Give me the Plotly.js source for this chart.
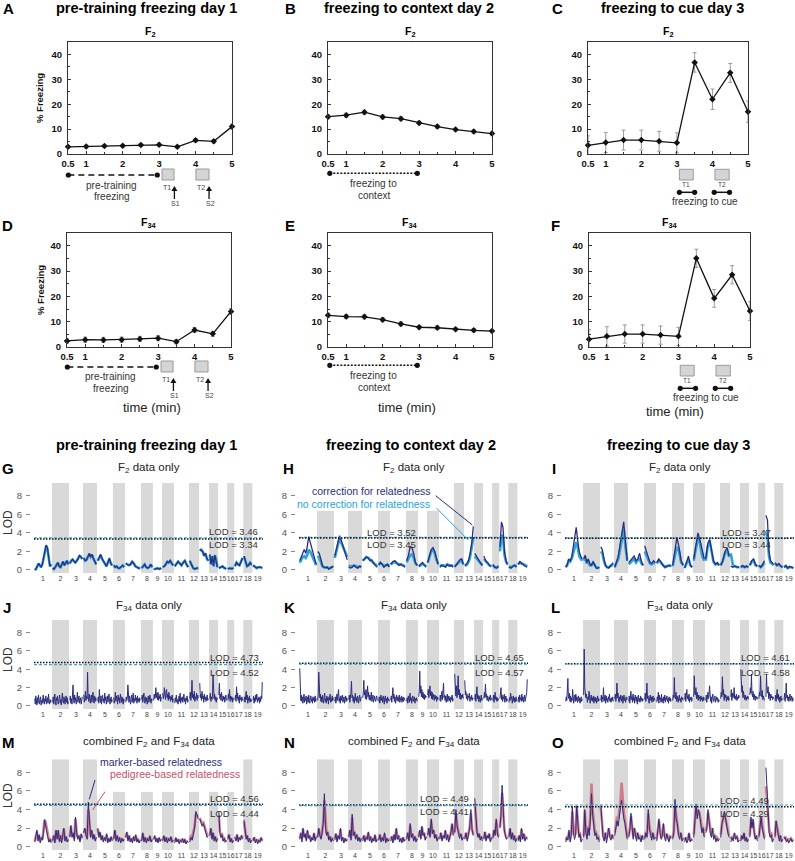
<!DOCTYPE html>
<html><head><meta charset="utf-8">
<script src="https://cdn.plot.ly/plotly-3.0.1.min.js"></script>
<style>html,body{margin:0;padding:0;background:#fff}#chart{width:795px;height:861px}</style>
</head><body><div id="chart"></div>
<script>
const FONT = 'Liberation Sans, Arial, Helvetica, sans-serif';
const W = 795, H = 861;

// ---------- freezing time courses (% freezing) ----------
const timeMin = [0.5,1,1.5,2,2.5,3,3.5,4,4.5,5];
const timeTicks = [0.5,1,2,3,4,5];
const f2Day1 = [2.9,3.0,3.2,3.3,3.6,3.7,2.9,5.5,5.1,11.0];
const f2Day1Err = [0.5,0.5,0.5,0.5,0.6,0.6,0.5,0.7,0.7,1.0];
const f2Day2 = [15.0,15.6,16.8,14.9,14.2,12.5,11.0,9.8,9.0,8.2];
const f2Day2Err = [0.8,0.8,0.8,0.8,0.8,0.7,0.7,0.6,0.6,0.6];
const f2Day3 = [3.5,4.6,5.6,5.6,5.1,4.5,36.8,22.0,32.6,17.0];
const f2Day3Err = [3.8,4.0,4.0,4.0,4.0,4.0,3.9,4.1,3.8,4.3];
const f34Day1 = [2.4,2.9,2.8,2.9,3.2,3.5,2.1,6.7,5.2,14.0];
const f34Day1Err = [0.9,1.0,1.0,1.0,1.0,1.0,0.8,1.0,1.0,1.2];
const f34Day2 = [12.5,12.0,11.9,10.8,9.1,7.8,7.6,7.0,6.6,6.3];
const f34Day2Err = [0.8,0.8,0.8,0.8,0.8,0.7,0.7,0.6,0.6,0.6];
const f34Day3 = [3.1,4.2,5.1,5.1,4.7,4.2,35.0,19.2,28.5,14.2];
const f34Day3Err = [3.7,3.8,3.6,3.6,3.6,3.6,3.6,3.5,3.6,3.7];

// ---------- genome scans (LOD per chromosome) ----------
const chrNames = ['1','2','3','4','5','6','7','8','9','10','11','12','13','14','15','16','17','18','19'];
const chrLen = [100,95,76,76,88,64,88,64,46,64,82,52,52,46,46,34,46,46,56];
const GAP = 9;

const lodG_corr = [
[0.0,0.1,0.4,0.7,0.5,0.3,0.6,1.4,2.1,2.7,2.4,1.0,0.4,0.6],
[0.2,0.1,0.3,0.5,0.8,0.4,0.3,0.6,0.9,0.5,0.7,1.0,0.6],
[0.7,1.0,1.2,0.9,0.8,1.0,1.2,1.6,1.4,1.2],
[1.3,1.0,1.1,1.5,1.8,1.4,1.7,1.2,0.8,0.6],
[1.0,1.3,1.7,1.2,0.9,0.6,0.4,0.8,1.3,0.7,0.5],
[0.5,0.3,0.4,0.2,0.2,0.4,0.5,0.3],
[0.7,0.6,0.5,0.6,0.9,0.7,0.4,0.3,0.2,0.2],
[0.2,0.4,0.6,0.3,0.2,0.3,0.6,0.3],
[0.1,0.1,0.2,0.1,0.2],
[0.3,0.4,0.6,0.9,0.8,1.0,0.7,0.5],
[0.4,0.6,0.9,0.7,0.5,0.8,1.0,0.6,0.3],
[1.0,0.6,0.2,0.1,0.2,0.2],
[2.2,2.1,2.0,1.5,1.8,1.3,1.0],
[1.7,0.6,1.5,0.4,1.6,1.1,0.3],
[0.2,0.3,0.4,0.2,0.1],
[0.1,0.2,0.1,0.2],
[0.4,0.8,0.6,0.5,0.9,1.3],
[1.5,0.9,0.4,0.5,0.8,0.5],
[0.5,0.3,0.2,0.3,0.3,0.2]];
const lodG_nocorr = [
[0.0,0.1,0.4,0.7,0.5,0.3,0.6,1.3,2.0,2.6,2.3,1.0,0.4,0.6],
[0.2,0.1,0.3,0.5,0.8,0.4,0.3,0.6,0.9,0.5,0.7,1.0,0.6],
[0.7,1.0,1.1,0.9,0.8,1.0,1.2,1.5,1.4,1.2],
[1.3,1.0,1.1,1.5,1.7,1.4,1.6,1.2,0.8,0.6],
[1.0,1.3,1.6,1.2,0.9,0.6,0.4,0.8,1.2,0.7,0.5],
[0.5,0.3,0.4,0.2,0.2,0.4,0.5,0.3],
[0.7,0.6,0.5,0.6,0.9,0.7,0.4,0.3,0.2,0.2],
[0.2,0.4,0.6,0.3,0.2,0.3,0.6,0.3],
[0.1,0.1,0.2,0.1,0.2],
[0.3,0.4,0.6,0.9,0.8,1.0,0.7,0.5],
[0.4,0.6,0.9,0.7,0.5,0.8,1.0,0.6,0.3],
[1.0,0.6,0.2,0.1,0.2,0.2],
[2.1,2.2,2.0,1.6,1.8,1.2,1.0],
[1.6,0.6,1.5,0.4,1.6,1.2,0.3],
[0.2,0.3,0.4,0.2,0.2],
[0.1,0.2,0.2,0.2],
[0.4,0.8,0.6,0.5,0.9,1.3],
[1.5,0.8,0.4,0.5,0.8,0.6],
[0.5,0.3,0.2,0.3,0.3,0.2]];

const lodH_corr = [
[1.0,1.4,2.0,2.2,1.8,2.5,3.6,3.0,2.2,1.5,1.0,0.6],
[2.0,1.8,1.2,0.5,0.3,0.2,0.3,0.1,0.2,0.3,0.4],
[1.5,2.2,3.0,3.7,3.3,2.6,2.2,1.6,1.1],
[0.3,0.2,0.3,0.5,0.3,0.2,0.4,0.3],
[1.0,1.2,1.4,1.3,1.0,1.1,0.7,0.5,0.3],
[0.5,0.8,0.6,0.3,0.5,0.6,0.3],
[0.6,0.9,1.0,0.7,0.5,0.6,0.4,0.3],
[1.0,1.6,2.5,2.4,1.8,0.8,0.5],
[0.4,0.6,0.8,0.5,0.3],
[0.8,1.5,2.2,2.4,2.0,1.2,0.6],
[0.3,0.5,0.4,0.3,0.6,0.4,0.5,0.3],
[0.3,0.6,0.8,1.1,1.2,0.6],
[0.5,0.6,0.8,1.2,2.0,3.0,4.7],
[1.8,1.5,1.2,0.9,0.7,0.5],
[1.5,1.0,0.8,0.5,0.4],
[0.6,0.3,0.2,0.4],
[2.5,5.2,4.6,2.0,1.0,0.6],
[0.3,0.2,0.4,0.5,0.3],
[0.6,0.9,0.7,0.5,0.4,0.3]];
const lodH_nocorr = [
[0.8,1.1,1.4,1.5,1.3,1.6,2.2,2.0,1.6,1.1,0.8,0.5],
[1.5,1.3,0.9,0.4,0.3,0.3,0.3,0.2,0.2,0.3,0.4],
[1.3,2.0,2.7,3.4,3.0,2.5,2.2,1.8,1.4],
[0.5,0.4,0.4,0.5,0.4,0.3,0.4,0.4],
[1.0,1.2,1.4,1.3,1.1,1.0,0.8,0.6,0.4],
[0.6,0.8,0.6,0.4,0.5,0.6,0.4],
[0.6,0.8,0.9,0.7,0.6,0.6,0.5,0.4],
[0.8,1.2,1.6,1.7,1.3,0.7,0.5],
[0.4,0.5,0.7,0.5,0.4],
[0.8,1.4,2.0,2.2,1.8,1.1,0.6],
[0.4,0.5,0.5,0.4,0.6,0.5,0.5,0.4],
[0.4,0.6,0.7,1.0,1.1,0.6],
[0.5,0.5,0.7,1.0,1.6,2.5,3.5],
[1.5,1.3,1.0,0.8,0.6,0.5],
[1.2,0.9,0.7,0.5,0.4],
[0.5,0.3,0.3,0.4],
[2.0,3.8,3.5,1.6,0.9,0.6],
[0.4,0.3,0.4,0.5,0.4],
[0.6,0.8,0.7,0.6,0.5,0.4]];

const lodI_corr = [
[0.3,0.6,1.2,1.0,1.4,2.6,3.8,4.6,3.2,2.0,1.5,1.2],
[1.2,1.6,0.8,1.2,0.6,0.5,0.9,0.6,0.2,0.2,0.3],
[2.5,2.2,1.2,0.5,0.3,0.2,0.4,0.6,0.8],
[0.3,0.8,1.5,2.8,4.2,5.2,3.0,1.0],
[0.8,1.0,1.3,1.5,1.0,1.2,1.8,0.9,0.5],
[2.6,2.0,1.5,0.8,0.7,1.0,0.8],
[0.8,1.2,0.9,0.5,0.3,0.4,0.5,0.4],
[0.5,1.8,3.5,2.5,1.0,0.5],
[0.2,0.8,1.5,0.5,0.3],
[1.2,2.8,4.0,3.2,2.0,1.2],
[1.2,2.8,3.3,2.0,1.0,0.6,0.8,0.5],
[0.5,1.0,2.0,2.4,1.5],
[0.4,0.3,0.4,0.3,0.3],
[0.3,0.5,0.3,0.4,0.3],
[0.5,1.0,1.2,0.6,0.4],
[0.5,0.3,0.6,1.0],
[5.9,5.4,2.0,1.0,0.8,0.6],
[0.8,0.5,0.7,0.4,0.3],
[0.3,0.5,0.2,0.4,0.3,0.2]];
const lodI_nocorr = [
[0.3,0.5,1.0,0.9,1.2,1.8,2.5,3.0,2.4,1.5,1.2,1.0],
[1.0,1.3,0.7,1.0,0.5,0.5,0.8,0.5,0.3,0.2,0.3],
[2.0,1.8,1.0,0.5,0.3,0.3,0.4,0.5,0.7],
[0.3,0.7,1.2,2.2,3.5,4.4,2.5,1.0],
[0.6,0.8,1.0,1.2,0.8,1.0,1.3,0.7,0.5],
[2.0,1.6,1.2,0.7,0.6,0.8,0.7],
[0.7,1.0,0.8,0.5,0.3,0.4,0.5,0.4],
[0.4,1.5,2.5,2.0,0.8,0.5],
[0.2,0.7,1.2,0.5,0.3],
[1.0,2.2,3.5,2.8,1.5,1.0],
[1.0,2.5,3.2,1.8,0.9,0.6,0.7,0.5],
[0.5,1.0,1.8,2.0,1.4],
[1.8,0.5,0.4,0.3,0.3],
[0.3,0.4,0.3,0.4,0.3],
[0.5,0.9,1.0,0.5,0.4],
[0.5,0.3,0.5,0.8],
[4.2,3.5,1.5,0.8,0.7,0.5],
[0.7,0.5,0.6,0.4,0.3],
[0.3,0.4,0.2,0.3,0.3,0.2]];

const lodJ = [
[0.8,0.2,1.1,0.4,0.1,0.9,0.3,1.2,0.5,0.2,0.7,1.0,0.1,0.6,0.3,0.9,1.2,0.4,0.2,0.8,0.5,1.1,0.2,0.6,0.9,0.3,1.3,0.5,0.2,0.7,0.4,0.6],
[0.4,1.0,0.2,0.7,1.3,0.5,0.1,0.9,0.6,1.1,0.2,0.4,0.8,1.2,0.3,0.7,0.1,0.9,1.4,0.5,0.3,1.0,0.6,0.2,0.8,1.1,0.4,0.9,0.2,0.5],
[0.6,1.1,0.3,0.8,0.2,1.0,2.3,0.6,0.3,1.2,0.5,0.9,0.2,0.7,1.5,0.4,0.8,1.1,0.3,0.6,0.9,0.2,0.7,1.0],
[1.2,0.4,0.9,1.6,0.6,1.1,0.8,3.7,1.0,0.5,1.3,0.7,0.3,0.9,1.2,0.4,0.8,1.5,0.6,0.3,1.1,0.5,0.9,0.6],
[0.5,1.0,0.3,1.8,0.7,0.4,1.1,0.2,0.9,1.2,0.5,0.8,0.3,1.4,0.6,1.0,0.2,0.7,1.1,0.4,0.9,1.3,0.5,0.2,0.8,1.0,0.4,0.7],
[0.9,0.3,0.7,1.5,0.5,1.1,0.8,0.2,1.2,0.6,0.9,0.3,1.3,0.7,0.4,1.0,0.6,0.2,0.8,0.5],
[0.4,1.0,0.6,0.9,2.3,0.8,0.4,1.1,0.5,0.2,0.9,1.2,0.4,0.7,1.4,0.3,0.8,0.5,1.2,0.6,0.9,0.3,1.1,0.5,0.8,0.4,0.9,0.6],
[0.7,1.2,0.4,0.9,1.4,0.6,0.3,1.0,0.5,0.9,0.2,0.7,1.1,0.4,0.8,1.2,0.5,0.3,0.8,0.6],
[0.6,1.3,0.8,1.0,2.0,0.9,1.4,0.7,1.5,0.6,1.1,0.8,1.3,0.5,1.0],
[1.4,0.8,1.1,2.0,1.2,0.7,1.6,1.8,0.9,1.3,0.6,1.5,0.8,1.1,0.5,1.0,0.7,1.2,0.4,0.8],
[0.3,0.9,0.5,1.2,0.4,0.7,0.2,0.8,1.1,0.5,1.4,0.3,0.9,0.6,1.0,0.4,0.7,1.3,0.5,0.8,0.2,0.9,0.6,1.1,0.4,0.7],
[0.8,1.5,0.6,1.1,2.8,0.9,1.3,0.7,1.6,0.5,1.0,0.8,1.4,0.6,1.2,0.9],
[2.5,0.9,1.3,0.6,1.6,0.8,1.1,0.4,1.3,0.7,1.0,0.5,0.9,1.2,0.6,0.8],
[0.8,1.4,0.5,1.0,0.7,1.1,3.4,1.2,0.8,1.3,0.6,1.0,0.4,0.9,0.7],
[1.2,2.5,0.8,1.3,0.6,1.5,0.9,0.5,1.1,0.7,1.0,0.4,0.8,1.2,0.6],
[0.6,1.3,0.8,1.8,0.5,1.1,0.7,1.0,0.4,0.9,0.6],
[0.7,1.2,0.5,2.1,0.8,1.4,0.6,1.0,0.3,1.2,0.7,0.9,0.5,1.0,0.6],
[0.5,1.0,0.4,0.8,1.6,0.7,1.2,0.3,0.9,0.6,1.1,0.4,0.8,0.5,0.7],
[0.6,1.1,0.3,0.9,0.5,1.2,0.7,1.3,0.4,0.8,0.6,1.0,0.3,0.9,0.5,1.1,0.8,2.6]];
const lodK = [
[4.1,1.5,0.6,1.2,0.5,1.0,0.3,0.8,1.3,0.4,0.9,0.6,1.1,0.2,0.7,1.0,0.4,1.2,0.6,0.3,0.9,1.1,0.5,0.8,0.3,1.0,0.6,0.9,0.4,1.1,0.5,0.8],
[0.6,1.2,3.7,1.5,0.9,1.3,0.5,1.0,0.4,1.2,0.7,0.3,0.9,1.4,0.5,0.8,0.3,1.1,0.6,0.9,0.2,1.0,0.7,1.3,0.4,0.8,0.5,1.1,0.6,0.9],
[0.5,1.0,0.3,0.8,1.3,0.6,1.0,1.8,0.5,0.9,0.3,1.1,0.6,0.9,1.2,0.4,0.7,1.0,0.3,0.8,1.1,0.5,0.9,0.6],
[0.7,1.2,0.4,0.9,1.5,2.7,0.9,1.2,0.5,1.0,0.3,0.8,1.4,0.6,0.9,0.4,1.1,0.7,0.3,0.9,1.2,0.5,0.8,1.0],
[0.9,1.4,2.8,1.2,1.6,0.8,1.8,0.7,1.1,2.2,1.0,1.5,0.7,1.2,0.6,1.0,1.5,0.5,0.9,1.2,0.4,0.8,1.1,0.7,0.5,0.9,1.1,0.6],
[0.5,1.0,0.3,0.8,1.2,0.6,0.9,0.4,1.1,0.7,0.2,0.9,1.1,0.5,0.8,0.3,1.0,0.6,0.8,0.5],
[0.6,1.1,0.4,0.9,2.0,0.8,1.3,0.5,1.0,0.3,0.9,1.2,0.6,1.0,0.5,0.8,1.2,0.4,0.9,0.6,1.1,0.4,0.8,1.0,0.5,0.9,0.7,0.6],
[0.5,0.9,0.3,1.1,0.7,0.4,1.4,0.6,0.9,0.3,0.8,1.1,0.5,0.7,1.0,0.3,0.8,0.6,0.9,0.5],
[1.0,1.6,3.8,1.4,2.2,1.0,1.8,0.9,1.5,0.8,1.3,0.7,1.2,0.9,1.1],
[1.2,1.8,0.9,1.4,2.2,1.1,1.6,0.8,1.5,0.7,1.3,1.0,0.6,1.2,0.8,1.1,0.5,1.0,0.7,0.9],
[0.6,1.2,0.5,0.9,1.6,0.7,1.3,2.5,0.9,1.2,0.6,1.1,0.4,0.9,1.3,0.5,0.8,1.1,0.6,0.9,0.4,1.0,0.7,1.2,0.5,0.8],
[3.5,1.6,1.1,2.2,0.9,1.5,3.3,1.2,1.8,0.8,1.4,0.7,1.2,0.9,1.3,0.8],
[2.8,1.2,1.6,0.8,1.3,0.6,1.1,0.9,1.4,0.5,1.0,0.7,1.2,0.6,0.9,0.8],
[0.7,1.3,0.5,1.0,2.1,0.8,1.2,0.5,1.1,0.7,0.4,0.9,1.2,0.6,0.8],
[0.8,1.5,0.9,2.4,1.0,1.3,0.6,1.1,0.8,0.5,1.0,0.7,1.2,0.6,0.9],
[0.6,1.2,0.4,0.9,1.5,0.7,1.0,0.5,0.9,0.6,0.8],
[0.8,1.3,2.0,0.7,1.2,0.5,1.0,0.8,1.3,0.4,0.9,1.1,0.5,0.8,0.6],
[0.4,0.9,0.6,1.4,0.8,1.0,0.3,0.8,1.1,0.5,0.9,0.4,0.7,1.0,0.5],
[0.5,1.0,0.4,1.2,0.7,0.9,0.5,1.3,0.6,1.0,0.4,0.9,1.2,0.5,0.8,1.1,1.5,2.9]];
const lodL = [
[0.5,1.0,0.6,1.4,3.0,1.0,0.8,1.4,0.5,1.1,0.4,0.9,0.6,1.8,0.7,0.3,0.9,1.2,0.5,1.3,0.6,1.0,0.4,0.8,1.1,0.5,0.9,0.3,0.7,1.0,0.5,0.8],
[1.2,6.2,2.0,1.5,0.9,1.3,0.6,0.4,1.0,0.7,1.6,0.5,0.3,0.8,1.2,0.6,0.9,0.5,1.1,0.3,0.8,1.0,0.5,0.9,0.3,0.7,1.1,0.5,0.8,0.6],
[0.6,1.2,0.4,1.0,0.7,2.0,0.5,0.9,1.2,0.3,1.1,0.6,0.8,0.4,1.0,0.7,1.3,0.5,0.8,0.4,0.9,0.6,1.0,0.5],
[0.8,1.3,0.5,1.0,2.5,0.9,1.4,0.6,0.4,1.0,0.7,1.2,0.5,0.8,1.1,0.3,0.9,1.2,0.6,0.8,0.4,1.0,0.7,0.9],
[0.5,1.1,0.3,0.8,1.6,0.7,1.0,0.4,1.3,0.6,0.9,0.3,1.2,0.8,0.5,1.0,0.2,0.9,1.2,0.5,0.8,0.4,1.1,0.6,0.9,0.5,0.8,0.6],
[0.7,1.4,0.5,1.0,2.5,0.8,1.1,0.6,0.3,0.9,1.2,0.6,1.0,0.4,0.8,1.1,0.5,0.9,0.7,0.6],
[0.4,1.0,0.6,1.5,0.3,1.2,0.7,0.9,0.4,1.3,0.5,0.8,0.3,1.0,0.6,1.2,0.4,0.9,0.7,1.1,0.5,0.8,0.3,1.0,0.6,0.9,0.5,0.7],
[0.6,1.2,0.9,3.1,1.0,0.8,1.5,0.5,1.1,0.7,0.4,0.9,1.2,0.6,0.8,0.4,1.0,0.7,0.9,0.6],
[0.7,1.4,0.5,1.0,1.8,0.8,1.1,0.6,1.3,0.4,0.9,0.7,1.0,0.5,0.9],
[1.0,3.3,1.4,1.2,2.0,0.8,1.5,0.9,0.6,1.2,0.8,1.0,0.5,1.1,0.7,0.9,0.5,1.0,0.6,0.9],
[0.6,1.2,0.4,0.9,1.5,0.8,1.1,2.2,0.7,0.5,1.0,0.3,0.9,1.3,0.7,0.5,0.9,1.1,0.4,0.8,1.0,0.6,0.9,0.4,0.7,0.5],
[0.8,1.5,1.0,3.2,1.2,1.8,0.6,1.3,0.9,1.2,0.5,1.0,0.7,1.1,0.6,0.9],
[1.0,1.8,0.6,1.4,0.9,1.2,2.0,0.8,1.1,0.7,1.3,0.6,1.0,0.8,1.2,0.9],
[4.0,1.8,1.5,2.2,0.9,1.6,1.1,0.7,1.2,0.9,0.6,1.0,0.8,1.1,0.7],
[1.2,2.0,1.4,3.5,1.3,1.0,1.6,0.7,1.3,0.9,0.6,1.1,0.8,1.0,0.7],
[0.8,1.5,1.1,3.3,1.4,1.0,1.7,0.7,1.1,0.8,0.6],
[1.0,3.5,1.8,1.4,2.1,0.8,1.5,1.0,0.6,1.3,0.9,1.1,0.7,1.0,0.8],
[0.6,1.2,0.5,0.9,1.8,0.8,1.3,0.6,1.0,0.4,0.9,1.1,0.6,0.8,0.7],
[0.7,1.4,0.5,1.0,2.5,0.9,1.2,0.6,1.0,0.5,0.9,1.3,0.6,0.8,1.1,0.5,0.9,0.6]];

const lodM_marker = [
[0.5,1.0,1.8,0.6,1.3,0.4,1.0,0.7,1.5,2.9,2.4,1.6,1.0,0.5,0.8,0.4],
[0.6,1.2,0.4,1.8,0.8,1.8,0.5,1.2,0.4,1.0,2.0,0.6,1.1,0.5,0.8],
[1.0,2.3,1.0,1.5,0.6,3.2,1.5,0.8,1.2,0.5,1.4,0.9],
[1.5,2.0,1.2,0.8,4.8,2.0,1.0,1.8,0.8,1.3,0.6,1.0],
[2.0,1.0,1.6,0.7,1.2,0.5,1.0,0.6,1.4,0.4,0.9,0.5,1.1,0.6],
[0.8,1.8,0.6,1.2,0.5,1.0,0.4,0.9,0.6,0.8],
[1.0,1.6,0.6,1.2,0.5,0.9,0.4,1.1,0.6,1.3,0.5,0.8,0.4,0.7],
[0.6,1.5,0.5,1.0,0.4,0.9,0.6,1.2,0.5,0.8],
[0.8,1.2,0.5,0.9,0.4,1.0,0.6,0.8],
[0.6,1.2,0.5,1.0,0.4,0.9,0.6,1.1,0.5,0.7],
[0.4,1.0,0.5,0.8,0.3,0.7,0.5,0.9,0.4,0.8,0.3,0.6,0.5],
[0.5,1.0,0.7,1.5,2.0,3.8,3.3,3.0],
[3.0,2.5,2.2,2.5,1.8,1.5,1.0,1.2],
[1.2,2.0,0.8,1.5,0.6,1.1,0.5,0.9],
[3.8,1.5,1.0,1.3,0.6,0.9,0.5,0.7],
[0.8,1.3,0.5,0.9,0.4,0.7],
[1.0,0.6,1.3,0.5,1.0,0.7,1.2,0.8],
[2.9,1.5,0.8,1.2,0.5,0.9,0.4,0.7],
[0.6,1.0,0.4,0.8,0.3,0.7,0.5,1.0,0.6]];
const lodM_pedigree = [
[0.6,1.0,1.6,0.8,1.2,0.6,1.0,0.8,1.6,2.9,2.6,1.8,1.1,0.7,0.8,0.5],
[0.7,1.2,0.6,1.7,1.0,1.7,0.7,1.2,0.6,1.1,1.9,0.8,1.1,0.6,0.8],
[1.1,2.2,1.2,1.5,0.9,3.0,1.6,1.0,1.2,0.7,1.3,1.0],
[1.5,1.9,1.3,1.0,4.0,2.1,1.2,1.7,1.0,1.3,0.8,1.0],
[1.9,1.2,1.5,0.9,1.2,0.7,1.0,0.8,1.3,0.6,0.9,0.7,1.0,0.7],
[0.9,1.7,0.8,1.2,0.7,1.0,0.6,0.9,0.7,0.8],
[1.0,1.5,0.8,1.2,0.7,0.9,0.6,1.0,0.7,1.2,0.7,0.8,0.6,0.7],
[0.7,1.4,0.7,1.0,0.6,0.9,0.7,1.1,0.6,0.8],
[0.8,1.1,0.7,0.9,0.6,0.9,0.7,0.8],
[0.7,1.1,0.7,1.0,0.6,0.9,0.7,1.0,0.6,0.7],
[0.6,0.9,0.6,0.8,0.5,0.7,0.6,0.8,0.5,0.7,0.5,0.6,0.6],
[0.7,1.1,1.0,1.6,2.2,3.5,3.4,3.2],
[3.1,2.8,2.5,2.6,2.0,1.7,1.3,1.3],
[1.3,1.9,1.0,1.5,0.8,1.1,0.7,0.9],
[3.4,1.6,1.2,1.3,0.8,0.9,0.6,0.7],
[0.9,1.3,0.7,0.9,0.6,0.7],
[1.1,0.8,1.3,0.7,1.0,0.8,1.2,0.9],
[2.7,1.6,1.0,1.2,0.7,0.9,0.6,0.7],
[0.7,1.0,0.6,0.8,0.5,0.7,0.6,0.9,0.7]];

const lodN_marker = [
[0.8,1.5,0.5,2.0,1.0,1.4,0.6,1.8,0.9,1.2,0.5,1.0,0.7,1.5,0.6,1.1],
[1.0,2.0,1.2,0.8,1.5,2.5,5.7,2.0,1.2,1.6,0.7,1.1,0.5,0.9,0.6],
[0.7,1.4,0.5,1.2,0.8,2.0,0.6,1.0,0.4,0.9,0.6,0.8],
[1.0,1.8,0.7,3.5,1.2,1.6,0.8,1.3,0.6,1.0,0.5,0.9],
[0.6,1.2,0.5,1.0,0.8,1.6,0.6,1.1,0.4,0.9,0.6,1.3,0.5,0.8],
[0.7,1.3,0.5,1.0,0.6,1.5,0.4,0.9,0.6,0.8],
[0.6,1.1,0.4,1.3,0.7,2.0,0.8,1.2,0.5,0.9,0.4,1.0,0.6,0.8],
[0.8,1.5,0.6,2.5,1.0,1.4,0.6,1.1,0.5,0.9],
[1.0,1.8,0.8,2.2,1.2,1.5,0.7,1.1],
[1.2,2.0,1.0,3.0,1.4,1.8,0.9,1.3,0.6,1.0],
[0.8,1.5,0.6,1.2,0.9,1.8,0.7,1.3,0.5,1.0,1.6,2.5,1.2],
[1.5,4.0,2.2,1.6,0.9,1.4,0.7,1.0],
[0.8,1.5,0.6,1.2,2.0,4.0,1.8,1.2],
[5.2,2.5,1.6,1.0,1.4,0.7,1.1,0.6],
[0.8,1.6,0.6,1.2,0.9,1.4,0.5,1.0],
[0.9,1.8,1.2,3.0,1.5,1.0],
[2.0,3.5,6.6,3.0,1.8,1.2,0.8,1.0],
[1.0,2.0,0.8,1.5,0.7,1.2,0.5,0.9],
[0.6,1.2,0.5,2.0,0.8,1.4,0.6,1.0,0.8]];
const lodN_pedigree = [
[0.9,1.4,0.8,1.9,1.1,1.4,0.8,1.7,1.0,1.2,0.7,1.0,0.8,1.4,0.8,1.1],
[1.1,1.9,1.3,1.0,1.6,2.7,5.0,2.3,1.4,1.6,0.9,1.1,0.7,0.9,0.8],
[0.9,1.4,0.7,1.2,0.9,1.9,0.8,1.0,0.6,0.9,0.7,0.8],
[1.1,1.7,0.9,3.2,1.3,1.6,1.0,1.3,0.8,1.0,0.7,0.9],
[0.8,1.2,0.7,1.0,0.9,1.5,0.8,1.1,0.6,0.9,0.7,1.2,0.7,0.8],
[0.8,1.3,0.7,1.0,0.8,1.4,0.6,0.9,0.7,0.8],
[0.8,1.1,0.6,1.3,0.8,1.9,0.9,1.2,0.7,0.9,0.6,1.0,0.7,0.8],
[0.9,1.5,0.8,2.3,1.1,1.4,0.8,1.1,0.7,0.9],
[1.1,1.7,1.0,2.1,1.3,1.5,0.9,1.1],
[1.3,2.0,1.2,2.8,1.5,1.8,1.0,1.3,0.8,1.0],
[0.9,1.5,0.8,1.2,1.0,1.7,0.9,1.3,0.7,1.0,1.6,2.4,1.3],
[1.6,3.6,2.3,1.7,1.1,1.4,0.9,1.0],
[0.9,1.5,0.8,1.3,2.0,3.6,1.9,1.3],
[4.6,2.6,1.7,1.2,1.4,0.9,1.1,0.8],
[0.9,1.6,0.8,1.2,1.0,1.4,0.7,1.0],
[1.0,1.8,1.3,2.8,1.6,1.1],
[2.1,3.4,5.8,3.1,1.9,1.3,1.0,1.0],
[1.1,1.9,1.0,1.5,0.9,1.2,0.7,0.9],
[0.8,1.2,0.7,1.9,0.9,1.4,0.8,1.0,0.9]];

const lodO_marker = [
[0.5,1.0,0.7,1.8,0.5,1.2,4.3,1.5,0.8,1.2,4.4,2.0,1.0,1.4,0.5,0.8],
[1.0,4.0,1.5,0.8,2.0,1.2,3.0,5.7,3.5,2.0,1.2,1.5,0.8,1.0,0.5],
[4.5,2.0,1.0,0.6,1.5,0.4,1.2,2.0,1.0,0.7,1.3,0.8],
[1.2,2.0,2.8,2.2,3.5,4.2,5.0,3.8,3.0,2.5,1.5,0.8],
[1.0,1.8,3.6,1.5,0.8,2.0,1.2,0.6,1.5,0.8,1.0,0.5,1.2,0.7],
[0.8,1.5,1.0,4.0,2.0,1.2,0.7,1.5,0.8,1.0],
[0.6,1.5,3.0,1.5,0.8,1.2,2.5,1.0,0.6,1.4,0.9,0.5,1.1,0.9],
[0.8,1.5,5.1,3.0,2.5,1.2,0.8,1.5,0.6,0.9],
[0.5,1.0,0.4,0.7,1.5,0.5,0.8,0.6],
[1.0,2.5,4.6,3.0,4.0,3.5,2.5,1.5,2.0,1.0],
[1.5,2.0,4.0,2.5,1.5,1.0,2.0,0.8,1.2,0.5,0.9,0.6,0.8],
[1.0,2.5,3.0,3.8,3.0,2.0,1.4,1.0],
[0.5,1.0,0.6,1.5,0.8,1.1,0.5,0.7],
[0.6,1.2,0.8,1.5,0.6,1.0,0.5,0.8],
[1.0,3.2,2.0,3.0,1.5,0.8,1.2,0.6],
[1.0,2.0,3.2,2.0,1.2,0.8],
[8.5,5.5,3.0,1.5,1.0,1.3,0.5,0.8],
[1.0,2.8,2.0,1.0,0.6,1.2,0.5,0.8],
[0.8,1.0,0.5,0.8,0.4,0.6,0.9,0.5,0.7]];
const lodO_pedigree = [
[0.7,1.0,0.9,1.6,0.8,1.3,3.8,1.8,1.2,1.5,4.3,2.3,1.3,1.4,0.8,0.9],
[1.2,3.8,1.8,1.2,2.2,1.8,3.5,6.8,4.0,2.4,1.6,1.6,1.0,1.1,0.7],
[4.2,2.2,1.3,0.9,1.5,0.8,1.3,2.0,1.2,0.9,1.3,1.0],
[1.5,2.3,3.2,3.0,4.0,4.8,6.9,4.6,3.6,2.8,1.8,1.0],
[1.2,1.9,3.3,1.8,1.1,2.0,1.4,0.9,1.5,1.0,1.1,0.7,1.2,0.9],
[1.0,1.6,1.3,3.6,2.2,1.4,1.0,1.5,1.0,1.1],
[0.8,1.6,2.8,1.7,1.0,1.3,2.4,1.2,0.9,1.4,1.0,0.7,1.1,1.0],
[1.0,1.7,4.4,3.2,2.6,1.5,1.1,1.5,0.8,1.0],
[0.7,1.0,0.7,0.9,1.4,0.7,0.8,0.7],
[1.3,2.7,4.2,3.4,3.9,3.6,2.8,1.9,2.0,1.2],
[1.7,2.2,3.7,2.7,1.8,1.3,2.0,1.1,1.3,0.8,1.0,0.8,0.9],
[1.3,2.5,3.2,3.6,3.1,2.3,1.7,1.2],
[0.8,1.1,0.9,1.4,1.0,1.1,0.7,0.8],
[0.8,1.2,1.0,1.4,0.8,1.0,0.7,0.8],
[1.2,3.0,2.2,2.8,1.7,1.0,1.2,0.8],
[1.2,2.1,3.3,2.3,1.4,1.0],
[6.5,5.0,3.2,1.8,1.3,1.4,0.8,0.9],
[1.2,2.7,2.1,1.3,0.9,1.2,0.7,0.8],
[0.9,1.1,0.7,0.9,0.6,0.7,0.9,0.7,0.8]];

// thresholds (LOD) for each scan
const thrG = [3.46, 3.34], thrH = [3.52, 3.45], thrI = [3.47, 3.44];
const thrJ = [4.73, 4.52], thrK = [4.65, 4.57], thrL = [4.61, 4.58];
const thrM = [4.56, 4.44], thrN = [4.49, 4.41], thrO = [4.49, 4.29];

// ---------- helpers ----------
const NAVY = '#2b2d7e', LIGHT = '#2ea3dc', PINK = 'rgba(208,96,116,0.78)', BAND = '#d9d9d9';
const px = x => x / W, py = y => 1 - y / H;
const ax = (i, a) => a + (i === 1 ? '' : i);
const axKey = (i, a) => a + 'axis' + (i === 1 ? '' : i);

const chrStart = []; let acc = 0;
chrLen.forEach(L => { chrStart.push(acc); acc += L + GAP; });
const GTOT = acc;
const chrCenter = chrLen.map((L, i) => chrStart[i] + (L + GAP) / 2);
const PPU = 229 / GTOT;

function scanXY(data) {
  const xs = [], ys = [];
  data.forEach((arr, c) => {
    const n = arr.length;
    arr.forEach((v, k) => { xs.push(chrStart[c] + GAP / 2 + chrLen[c] * k / (n - 1)); ys.push(v); });
    xs.push(null); ys.push(null);
  });
  return {xs, ys};
}

const traces = [], shapes = [], annotations = [];
const layout = {width: W, height: H, margin: {l: 0, r: 0, t: 0, b: 0}, paper_bgcolor: '#fff', plot_bgcolor: 'rgba(0,0,0,0)',
  showlegend: false, font: {family: FONT}, shapes, annotations};

function A(x, y, text, o) {
  annotations.push(Object.assign({xref: 'paper', yref: 'paper', x: px(x), y: py(y), text, showarrow: false,
    xanchor: 'center', yanchor: 'middle', font: {family: FONT, size: 12, color: '#000'}}, o || {}));
}

// ---------- top panels ----------
const topPanels = [
  {id: 1, rect: [68, 232, 42, 154], y: f2Day1, e: f2Day1Err},
  {id: 2, rect: [328, 492, 42, 154], y: f2Day2, e: f2Day2Err},
  {id: 3, rect: [588, 748, 42, 154], y: f2Day3, e: f2Day3Err},
  {id: 4, rect: [67, 231, 233, 347], y: f34Day1, e: f34Day1Err},
  {id: 5, rect: [328, 492, 233, 347], y: f34Day2, e: f34Day2Err},
  {id: 6, rect: [589, 750, 233, 347], y: f34Day3, e: f34Day3Err}
];
const tickF = {family: FONT, size: 9.5, color: '#111', weight: 700};
topPanels.forEach(p => {
  const [l, r, t, b] = p.rect;
  layout[axKey(p.id, 'x')] = {domain: [px(l), px(r)], range: [0.5, 5], anchor: ax(p.id, 'y'), tickmode: 'array',
    tickvals: timeTicks, ticktext: timeTicks.map(String), ticks: 'inside', ticklen: 3, tickcolor: '#333',
    showline: true, linecolor: '#333', linewidth: 1, mirror: true, showgrid: false, zeroline: false, tickfont: tickF,
    minor: {tickmode: 'array', tickvals: [1.5, 2.5, 3.5, 4.5], ticks: 'inside', ticklen: 2, tickcolor: '#333'}, ticklabelstandoff: 1};
  layout[axKey(p.id, 'y')] = {domain: [py(b), py(t)], range: [0, 45], anchor: ax(p.id, 'x'), tickmode: 'array',
    tickvals: [0, 10, 20, 30, 40], ticks: 'inside', ticklen: 3, tickcolor: '#333', showline: true, linecolor: '#333',
    linewidth: 1, mirror: true, showgrid: false, zeroline: false, tickfont: tickF,
    minor: {tickmode: 'array', tickvals: [5, 15, 25, 35], ticks: 'inside', ticklen: 2, tickcolor: '#333'}, ticklabelstandoff: 3};
  traces.push({type: 'scatter', mode: 'lines+markers', x: timeMin, y: p.y, xaxis: ax(p.id, 'x'), yaxis: ax(p.id, 'y'),
    line: {color: '#111', width: 1.3}, marker: {symbol: 'diamond', size: 5, color: '#111'},
    error_y: {type: 'data', array: p.e, visible: true, color: '#9a9a9a', thickness: 1, width: 2},
    cliponaxis: false, hoverinfo: 'skip'});
});
const tpx = (id, t) => { const [l, r] = topPanels[id - 1].rect; return l + (t - 0.5) * (r - l) / 4.5; };

function pline(x0, y0, x1, y1, color, width, dash) {
  shapes.push({type: 'line', xref: 'paper', yref: 'paper', x0: px(x0), y0: py(y0), x1: px(x1), y1: py(y1), line: {color, width, dash: dash || 'solid'}});
}
function dot(x, y) {
  shapes.push({type: 'circle', xref: 'paper', yref: 'paper', x0: px(x - 2.6), x1: px(x + 2.6), y0: py(y + 2.6), y1: py(y - 2.6),
    fillcolor: '#111', line: {width: 0}});
}
function hline(id, t0, t1, y, dash) {
  const a = tpx(id, t0), b = tpx(id, t1);
  pline(a, y, b, y, '#111', 1.5, dash); dot(a, y); dot(b, y);
}
function box(id, t0, t1, y0, y1) {
  shapes.push({type: 'rect', xref: 'paper', yref: 'paper', x0: px(tpx(id, t0)), x1: px(tpx(id, t1)), y0: py(y1), y1: py(y0),
    fillcolor: '#d4d4d4', line: {color: '#9a9a9a', width: 1}});
}
function dtext(id, t, y, text, size, color) { A(tpx(id, t), y, text, {font: {family: FONT, size, color}}); }
function arrow(id, t, yHead, yTail) {
  const x = tpx(id, t);
  pline(x, yHead + 3, x, yTail, '#111', 1.3);
  shapes.push({type: 'path', xref: 'paper', yref: 'paper', fillcolor: '#111', line: {width: 0},
    path: `M ${px(x)} ${py(yHead)} L ${px(x - 3)} ${py(yHead + 5)} L ${px(x + 3)} ${py(yHead + 5)} Z`});
}
[[1, 0], [4, 192]].forEach(([id, o]) => {
  hline(id, 0.51, 2.95, 175 + o, '6px,4px');
  dtext(id, 1.70, 185 + o, 'pre-training', 10, '#333');
  dtext(id, 1.70, 196 + o, 'freezing', 10, '#333');
  box(id, 3.08, 3.41, 169 + o, 180 + o); box(id, 4.01, 4.37, 169 + o, 180 + o);
  dtext(id, 3.21, 188 + o, 'T1', 7, '#444'); dtext(id, 4.15, 188 + o, 'T2', 7, '#444');
  arrow(id, 3.42, 186 + o, 199 + o); arrow(id, 4.37, 186 + o, 199 + o);
  dtext(id, 3.46, 203 + o, 'S1', 7, '#444'); dtext(id, 4.42, 203 + o, 'S2', 7, '#444');
});
[[2, 0], [5, 192]].forEach(([id, o]) => {
  hline(id, 0.55, 2.95, 173.3 + o, '2px,1.5px');
  dtext(id, 1.75, 183.5 + o, 'freezing to', 10, '#333');
  dtext(id, 1.75, 195 + o, 'context', 10, '#333');
});
[[3, 0, 0], [6, 196, -0.02]].forEach(([id, o, dx]) => {
  box(id, 3.07 + dx, 3.46 + dx, 169.3 + o, 180 + o); box(id, 4.07 + dx, 4.47 + dx, 169.3 + o, 180 + o);
  dtext(id, 3.27 + dx, 184.5 + o, 'T1', 6.5, '#444'); dtext(id, 4.27 + dx, 184.5 + o, 'T2', 6.5, '#444');
  hline(id, 3.07 + dx, 3.50 + dx, 192.3 + o, 'solid'); hline(id, 4.05 + dx, 4.48 + dx, 192.3 + o, 'solid');
  dtext(id, 3.78 + dx, 201.7 + o, 'freezing to cue', 10, '#333');
});
A(152, 407, 'time (min)', {font: {family: FONT, size: 13, color: '#222'}});
A(407, 407, 'time (min)', {font: {family: FONT, size: 13, color: '#222'}});
A(675, 411.5, 'time (min)', {font: {family: FONT, size: 13, color: '#222'}});

const titleF = {family: FONT, size: 14.5, color: '#000'};
A(146, 8, '<b>pre-training freezing day 1</b>', {font: titleF});
A(409, 8, '<b>freezing to context day 2</b>', {font: titleF});
A(672, 8, '<b>freezing to cue day 3</b>', {font: titleF});
const letF = {family: FONT, size: 15, color: '#000'};
[['A', 8, 8], ['B', 290, 8], ['C', 557, 8], ['D', 7, 225], ['E', 290, 225], ['F', 555, 225]].forEach(([t, x, y]) => A(x, y, '<b>' + t + '</b>', {font: letF}));
const subF = {family: FONT, size: 10.5, color: '#000'};
A(150, 32, '<b>F<sub>2</sub></b>', {font: subF}); A(410, 32, '<b>F<sub>2</sub></b>', {font: subF}); A(668, 32, '<b>F<sub>2</sub></b>', {font: subF});
A(149, 223, '<b>F<sub>34</sub></b>', {font: subF}); A(410, 223, '<b>F<sub>34</sub></b>', {font: subF}); A(670, 223, '<b>F<sub>34</sub></b>', {font: subF});
A(40, 98, '<b>% Freezing</b>', {textangle: -90, font: {family: FONT, size: 9.5, color: '#111'}});
A(40, 290, '<b>% Freezing</b>', {textangle: -90, font: {family: FONT, size: 9.5, color: '#111'}});

// ---------- LOD panels ----------
const rowG = {top: 483, bottom: 573.2}, rowJ = {top: 619.8, bottom: 709.2}, rowM = {top: 759.3, bottom: 850};
const tall = [9.4,9.4,9.4,9.4,9.4,9.4,9.4,9.4,9.4];
const lodPanels = [
  {id: 7, left: 34, row: rowG, tr: [[lodG_nocorr, 'light'], [lodG_corr, 'navy']], thr: thrG, st: ['blue', 'black'], bands: tall, lab: [260, 'right', 531.7, 544]},
  {id: 8, left: 299, row: rowG, tr: [[lodH_nocorr, 'light'], [lodH_corr, 'navy']], thr: thrH, st: ['blue', 'black'], bands: [6.4,6.4,6.4,6.4,6.4,9.4,9.4,9.4,9.4], lab: [365, 'left', 532, 544]},
  {id: 9, left: 565, row: rowG, tr: [[lodI_nocorr, 'light'], [lodI_corr, 'navy']], thr: thrI, st: ['blue', 'black'], bands: tall, lab: [720, 'left', 532, 544]},
  {id: 10, left: 34, row: rowJ, tr: [[lodJ, 'dense']], thr: thrJ, st: ['black', 'blue'], bands: tall, lab: [261, 'right', 657, 672]},
  {id: 11, left: 299, row: rowJ, tr: [[lodK, 'dense']], thr: thrK, st: ['black', 'blue'], bands: tall, lab: [526, 'right', 657, 672]},
  {id: 12, left: 565, row: rowJ, tr: [[lodL, 'dense']], thr: thrL, st: ['black', 'blue'], bands: tall, lab: [792, 'right', 657, 672]},
  {id: 13, left: 34, row: rowM, tr: [[lodM_pedigree, 'pink'], [lodM_marker, 'dense']], thr: thrM, st: ['black', 'blue'], bands: [9.4,9.4,5.9,5.9,5.9,5.9,5.9,5.9,9.4], lab: [261, 'right', 798, 813]},
  {id: 14, left: 299, row: rowM, tr: [[lodN_pedigree, 'pink'], [lodN_marker, 'dense']], thr: thrN, st: ['black', 'blue'], bands: tall, lab: [418, 'left', 798, 811]},
  {id: 15, left: 565, row: rowM, tr: [[lodO_pedigree, 'pink'], [lodO_marker, 'dense']], thr: thrO, st: ['blue', 'black'], bands: tall, lab: [718, 'left', 800, 813]}
];
const styles = {
  light: {color: LIGHT, width: 2.6}, navy: {color: NAVY, width: 1.3},
  dense: {color: NAVY, width: 1}, pink: {color: PINK, width: 2.6}
};
lodPanels.forEach(p => {
  const l = p.left - 3, r = Math.min(W, p.left + 230);
  layout[axKey(p.id, 'x')] = {domain: [px(l), px(r)], range: [-3 / PPU, GTOT + (r - p.left - 229) / PPU], anchor: ax(p.id, 'y'),
    tickmode: 'array', tickvals: chrCenter, ticktext: chrNames, ticks: '', tickangle: 0, showline: false, showgrid: false, zeroline: false,
    tickfont: {family: FONT, size: 7, color: '#444'}, ticklabelstandoff: 0};
  layout[axKey(p.id, 'y')] = {domain: [py(p.row.bottom), py(p.row.top)], range: [-0.35, 9.4], anchor: ax(p.id, 'x'),
    tickmode: 'array', tickvals: [0, 2, 4, 6, 8], ticks: 'outside', ticklen: 4, tickwidth: 1, tickcolor: '#888',
    showline: false, showgrid: false, zeroline: false, tickfont: {family: FONT, size: 9.5, color: '#555'}, ticklabelstandoff: 2};
  p.bands.forEach((top, j) => {
    const c = 2 * j + 1;
    shapes.push({type: 'rect', layer: 'below', xref: ax(p.id, 'x'), yref: ax(p.id, 'y'), x0: chrStart[c], x1: chrStart[c] + chrLen[c] + GAP,
      y0: -0.35, y1: top, fillcolor: BAND, line: {width: 0}});
  });
  p.tr.forEach(([data, kind]) => {
    const {xs, ys} = scanXY(data);
    traces.push({type: 'scatter', mode: 'lines', x: xs, y: ys, xaxis: ax(p.id, 'x'), yaxis: ax(p.id, 'y'),
      line: Object.assign({shape: 'linear'}, styles[kind]), connectgaps: false, hoverinfo: 'skip'});
  });
  p.thr.forEach((v, k) => {
    const blue = p.st[k] === 'blue';
    shapes.push({type: 'line', xref: ax(p.id, 'x'), yref: ax(p.id, 'y'), x0: 0, x1: GTOT, y0: v, y1: v,
      line: blue ? {color: '#3d9fd2', width: 1.2, dash: '3px,2px'} : {color: '#111', width: 1.5, dash: '1.5px,1.5px'}});
  });
  const [lx, anc, y1, y2] = p.lab;
  const lf = {family: FONT, size: 9.5, color: '#333'};
  A(lx, y1, 'LOD = ' + p.thr[0].toFixed(2), {xanchor: anc, font: lf});
  A(lx, y2, 'LOD = ' + p.thr[1].toFixed(2), {xanchor: anc, font: lf});
});

A(146, 445, '<b>pre-training freezing day 1</b>', {font: titleF});
A(411, 445, '<b>freezing to context day 2</b>', {font: titleF});
A(678, 445, '<b>freezing to cue day 3</b>', {font: titleF});
[['G', 8, 469], ['H', 288, 469], ['I', 554, 469], ['J', 7, 607], ['K', 289, 607], ['L', 555, 607], ['M', 8, 742], ['N', 289, 742], ['O', 558, 742]]
  .forEach(([t, x, y]) => A(x, y, '<b>' + t + '</b>', {font: letF}));
const sub2 = {family: FONT, size: 11.5, color: '#222'};
[148.5, 413.5, 679.5].forEach(x => A(x, 468, 'F<sub>2</sub> data only', {font: sub2}));
[148.5, 413.5, 679.5].forEach(x => A(x, 606, 'F<sub>34</sub> data only', {font: sub2}));
[148.5, 413.5, 679.5].forEach(x => A(x, 742, 'combined F<sub>2</sub> and F<sub>34</sub> data', {font: sub2}));
const lodT = {family: FONT, size: 12, color: '#333'};
A(8, 523, 'LOD', {textangle: -90, font: lodT}); A(8, 660, 'LOD', {textangle: -90, font: lodT}); A(8, 796, 'LOD', {textangle: -90, font: lodT});

A(432, 491, 'correction for relatedness', {xanchor: 'right', font: {family: FONT, size: 10.5, color: NAVY}});
A(432, 504, 'no correction for relatedness', {xanchor: 'right', font: {family: FONT, size: 10.5, color: '#29a3dc'}});
pline(435.7, 495.7, 472.3, 525, NAVY, 1);
pline(436.7, 508.3, 468.3, 540, '#29a3dc', 1);
A(98, 762, 'marker-based relatedness', {xanchor: 'left', font: {family: FONT, size: 10.5, color: NAVY}});
A(108, 774, 'pedigree-based relatedness', {xanchor: 'left', font: {family: FONT, size: 10.5, color: '#c8506a'}});
pline(95, 780, 89.3, 799.3, NAVY, 1);
pline(105, 791.7, 92.7, 810, '#c8506a', 1);

Plotly.newPlot('chart', traces, layout, {staticPlot: true, displayModeBar: false});
</script></body></html>
